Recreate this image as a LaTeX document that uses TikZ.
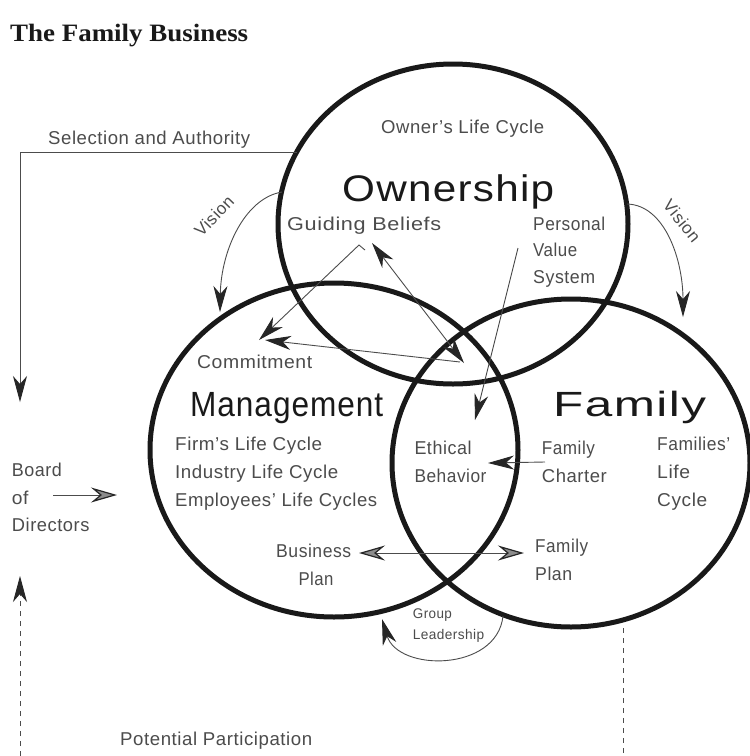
\documentclass[tikz,border=0pt]{standalone}
\usepackage{graphicx}
\usepackage{fontspec}
\setmainfont{Liberation Sans}[LetterSpace=3]
\newfontfamily\titlefont{Liberation Serif}
\usetikzlibrary{arrows.meta}
\newcommand\tx[3][18.6]{\resizebox{#2pt}{\height}{\fontsize{#1}{#1}\selectfont #3}}
\tikzset{
  bigring/.style={draw=black!90, line width=5pt},
  thinline/.style={draw=black!70, line width=0.9pt},
  dashline/.style={draw=black!70, line width=0.9pt, dash pattern=on 5pt off 5pt},
  dkend/.style={-{Stealth[length=26pt,width=14pt,inset=8pt,color=black!85,fill=black!85]}},
  dkboth/.style={{Stealth[length=26pt,width=14pt,inset=8pt,color=black!85,fill=black!85]}-{Stealth[length=26pt,width=14pt,inset=8pt,color=black!85,fill=black!85]}},
  htend/.style={-{Stealth[length=26pt,width=15pt,inset=9pt,color=black!85,fill=black!45,line width=1.2pt]}},
  htboth/.style={{Stealth[length=26pt,width=15pt,inset=9pt,color=black!85,fill=black!45,line width=1.2pt]}-{Stealth[length=26pt,width=15pt,inset=9pt,color=black!85,fill=black!45,line width=1.2pt]}},
  lab/.style={inner sep=0pt, anchor=base west, text=black!70},
  biglab/.style={inner sep=0pt, anchor=base west, text=black!90},
}
\begin{document}
\begin{tikzpicture}[x=1pt,y=-1pt]
\fill[white] (0,0) rectangle (750,756);
\useasboundingbox (0,0) rectangle (750,756);

% title
\node[biglab] (title) at (10,41.7) {\resizebox{238pt}{\height}{\fontsize{25}{25}\selectfont\titlefont\bfseries The Family Business}};

% rings
\draw[bigring] (453,224) ellipse [x radius=175, y radius=160];
\draw[bigring] (334,450) ellipse [x radius=184, y radius=167];
\draw[bigring] (571,463) ellipse [x radius=179, y radius=164];

% labels
\node[lab] (sel) at (48,144.3) {\tx{202}{Selection and Authority}};
\node[lab] (olc) at (381,133) {\tx{163}{Owner’s Life Cycle}};
\node[biglab] (own) at (342,201.5) {\tx[37]{212}{Ownership}};
\node[lab] (gb) at (287,230) {\tx{154}{Guiding Beliefs}};
\node[lab] (pv1) at (533,230) {\tx{72}{Personal}};
\node[lab] (pv2) at (533,256) {\tx{44}{Value}};
\node[lab] (pv3) at (533,283.3) {\tx{62}{System}};
\node[inner sep=0pt, text=black!70, rotate=46] (visL) at (214,216) {\fontsize{17}{17}\selectfont Vision};
\node[inner sep=0pt, text=black!70, rotate=-51] (visR) at (682,221) {\fontsize{17}{17}\selectfont Vision};
\node[lab] (com) at (197,368.3) {\tx{115}{Commitment}};
\node[biglab] (mgmt) at (190,416) {\tx[35]{193}{Management}};
\node[biglab] (fam) at (553,416) {\tx[35]{153}{Family}};
\node[lab] (f1) at (175,450) {\tx{147}{Firm’s Life Cycle}};
\node[lab] (f2) at (175,478) {\tx{163}{Industry Life Cycle}};
\node[lab] (f3) at (175,506) {\tx{202}{Employees’ Life Cycles}};
\node[lab] (eb1) at (414.3,454) {\tx{57}{Ethical}};
\node[lab] (eb2) at (414.3,482.3) {\tx{72}{Behavior}};
\node[lab] (fc1) at (541.7,454) {\tx{53}{Family}};
\node[lab] (fc2) at (541.7,482) {\tx{65}{Charter}};
\node[lab] (fl1) at (657,450) {\tx{73}{Families’}};
\node[lab] (fl2) at (657,478) {\tx{33}{Life}};
\node[lab] (fl3) at (657,506) {\tx{50}{Cycle}};
\node[lab] (bd1) at (11.7,476) {\tx{50}{Board}};
\node[lab] (bd2) at (11.7,504) {\tx{16.6}{of}};
\node[lab] (bd3) at (11.7,531.7) {\tx{77.6}{Directors}};
\node[lab] (bp1) at (276,557.3) {\tx{75}{Business}};
\node[lab] (bp2) at (298.3,585) {\tx{35}{Plan}};
\node[lab] (fp1) at (535,552.3) {\tx{53}{Family}};
\node[lab] (fp2) at (535,580) {\tx{37}{Plan}};
\node[lab] (gl1) at (412.7,618.3) {\tx[14]{39}{Group}};
\node[lab] (gl2) at (412.7,639.3) {\tx[14]{71.3}{Leadership}};
\node[lab] (pp) at (120,745) {\tx{192}{Potential Participation}};

% connector end points
\coordinate (saA) at (297,152);
\coordinate (saB) at (20,152);
\coordinate (saC) at (20,402);
\coordinate (vlA) at (282,192);
\coordinate (vlB) at (220,312);
\coordinate (vrA) at (627,204);
\coordinate (vrB) at (683,317);
\coordinate (gbT) at (365,250);
\coordinate (gbA) at (359,245);
\coordinate (gbC) at (259,340);
\coordinate (dbA) at (372,243);
\coordinate (dbB) at (464,363);
\coordinate (cmA) at (460,362);
\coordinate (cmB) at (265,340);
\coordinate (pvA) at (518,248);
\coordinate (pvB) at (475,420);
\coordinate (fcA) at (545,462);
\coordinate (fcB) at (488,463);
\coordinate (plA) at (359,553);
\coordinate (plB) at (524,553);
\coordinate (bdA) at (53,495);
\coordinate (bdB) at (117,495);
\coordinate (glA) at (503,616);
\coordinate (glB) at (382,619);
\coordinate (ppA) at (20,756);
\coordinate (ppB) at (20,576);
\coordinate (ppC) at (623,628);
\coordinate (ppD) at (623,756);

% connectors
\draw[thinline,dkend] (saA) -- (saB) -- (saC);
\draw[thinline,dkend] (vlA) .. controls (245,198) and (221,250) .. (vlB);
\draw[thinline,dkend] (vrA) .. controls (665,205) and (683,260) .. (vrB);
\draw[thinline,dkend] (gbT) -- (gbA) -- (gbC);
\draw[thinline,dkboth] (dbA) -- (dbB);
\draw[thinline,dkend] (cmA) -- (cmB);
\draw[thinline,dkend] (pvA) -- (pvB);
\draw[thinline,dkend] (fcA) -- (fcB);
\draw[thinline,htboth] (plA) -- (plB);
\draw[thinline,htend] (bdA) -- (bdB);
\draw[thinline,dkend] (glA) .. controls (497,672) and (398,672) .. (glB);
\draw[dashline,dkend] (ppA) -- (ppB);
\draw[dashline] (ppC) -- (ppD);
\end{tikzpicture}
\end{document}
